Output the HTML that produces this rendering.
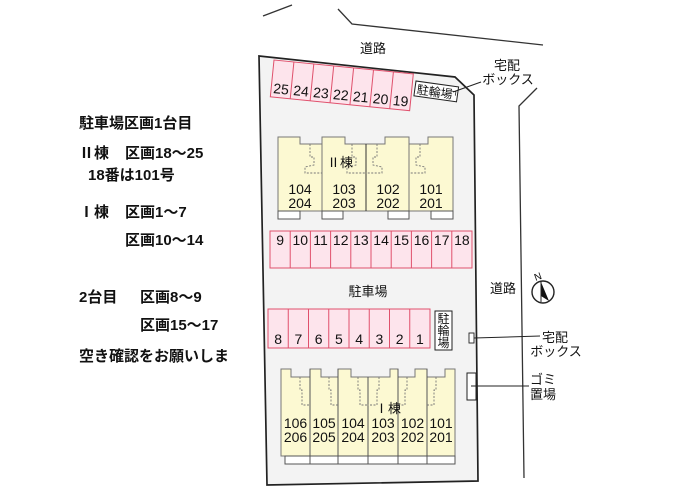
<!DOCTYPE html>
<html><head><meta charset="utf-8"><style>
html,body{margin:0;padding:0;background:#fff;}
svg{display:block;}
text{font-family:"Liberation Sans","Noto Sans CJK JP",sans-serif;}
.cjk{font-family:"Noto Sans CJK JP","Liberation Sans",sans-serif;}
.lt{font-weight:bold;font-size:15px;fill:#111;}
</style></head><body>
<svg width="676" height="499" viewBox="0 0 676 499" xmlns="http://www.w3.org/2000/svg">
<!-- roads -->
<g fill="none" stroke="#333" stroke-width="1.3">
<polyline points="263,16 292,5"/>
<polyline points="338,9 352,24 543,45"/>
<polyline points="537,88 519,106 524,478"/>
</g>
<!-- lot -->
<polygon points="259,56 455,77 474,95 478,481 267,485" fill="#f3f3f3" stroke="#222" stroke-width="1.7"/>

<!-- top parking 19-25 -->
<g transform="translate(274,60) rotate(5.7)">
<rect x="0" y="0" width="140" height="37" fill="#fde4ec" stroke="#e0506c" stroke-width="1"/>
<g stroke="#e0506c" stroke-width="1">
<line x1="20" y1="0" x2="20" y2="37"/><line x1="40" y1="0" x2="40" y2="37"/><line x1="60" y1="0" x2="60" y2="37"/><line x1="80" y1="0" x2="80" y2="37"/><line x1="100" y1="0" x2="100" y2="37"/><line x1="120" y1="0" x2="120" y2="37"/>
</g>
<g font-size="14" fill="#111" text-anchor="middle">
<text x="10" y="33">25</text><text x="30" y="33">24</text><text x="50" y="33">23</text><text x="70" y="33">22</text><text x="90" y="33">21</text><text x="110" y="33">20</text><text x="130" y="33">19</text>
</g>
</g>
<!-- bike box top -->
<g transform="translate(416,81) rotate(8)">
<rect x="0" y="0" width="43" height="15" fill="#fff" stroke="#222" stroke-width="1"/>
<text x="2" y="12.5" font-size="12" fill="#111">駐輪場</text>
<polyline points="37,5 41,5 41,9" fill="none" stroke="#222" stroke-width="0.8"/>
</g>
<line x1="453" y1="92" x2="481" y2="82" stroke="#222" stroke-width="1"/>
<text x="507" y="70" font-size="13" fill="#111" text-anchor="middle">宅配</text>
<text x="508" y="84" font-size="13" fill="#111" text-anchor="middle">ボックス</text>
<text x="373" y="53" font-size="13" fill="#111" text-anchor="middle">道路</text>

<!-- Building II -->
<path d="M278,137 L300,137 L300,144 L322,144 L322,137 L345,137 L345,144 L385,144 L385,137 L409,137 L409,144 L428,144 L428,137 L453,137 L453,211 L278,211 Z" fill="#fcf9d2" stroke="#777" stroke-width="1"/>
<line x1="322" y1="137" x2="322" y2="211" stroke="#777"/>
<line x1="366" y1="144" x2="366" y2="211" stroke="#333"/>
<line x1="409" y1="137" x2="409" y2="211" stroke="#777"/>
<g fill="none" stroke="#777" stroke-width="0.9" stroke-dasharray="2,1.5">
<path d="M310,144 L310,157 L314,157 L314,165 L305,167 L305,173 L322,173"/>
<path d="M352,144 L352,157 L356,157 L356,165 L347,167 L347,173 L366,173"/>
<path d="M377,144 L377,157 L373,157 L373,165 L382,167 L382,173 L366,173"/>
<path d="M420,144 L420,157 L416,157 L416,165 L425,167 L425,173 L409,173"/>
</g>
<g fill="#fff" stroke="#555" stroke-width="1">
<rect x="278" y="211" width="22" height="8"/>
<rect x="322" y="211" width="21" height="8"/>
<rect x="388" y="211" width="21" height="8"/>
<rect x="431" y="211" width="22" height="8"/>
</g>
<text class="cjk" x="340" y="167" font-size="13" fill="#111" text-anchor="middle">Ⅱ棟</text>
<g font-size="14" fill="#111" text-anchor="middle">
<text x="300" y="194">104</text><text x="300" y="208">204</text>
<text x="344" y="194">103</text><text x="344" y="208">203</text>
<text x="388" y="194">102</text><text x="388" y="208">202</text>
<text x="431" y="194">101</text><text x="431" y="208">201</text>
</g>

<!-- parking 9-18 -->
<rect x="270" y="231" width="202" height="37" fill="#fde4ec" stroke="#e0506c"/>
<g stroke="#e0506c">
<line x1="290.2" y1="231" x2="290.2" y2="268"/><line x1="310.4" y1="231" x2="310.4" y2="268"/><line x1="330.6" y1="231" x2="330.6" y2="268"/><line x1="350.8" y1="231" x2="350.8" y2="268"/><line x1="371" y1="231" x2="371" y2="268"/><line x1="391.2" y1="231" x2="391.2" y2="268"/><line x1="411.4" y1="231" x2="411.4" y2="268"/><line x1="431.6" y1="231" x2="431.6" y2="268"/><line x1="451.8" y1="231" x2="451.8" y2="268"/>
</g>
<g font-size="14" fill="#111" text-anchor="middle">
<text x="280.1" y="245">9</text><text x="300.3" y="245">10</text><text x="320.5" y="245">11</text><text x="340.7" y="245">12</text><text x="360.9" y="245">13</text><text x="381.1" y="245">14</text><text x="401.3" y="245">15</text><text x="421.5" y="245">16</text><text x="441.7" y="245">17</text><text x="461.9" y="245">18</text>
</g>

<text x="368" y="296" font-size="13" fill="#111" text-anchor="middle">駐車場</text>

<!-- parking 1-8 -->
<rect x="268" y="309" width="162" height="39" fill="#fde4ec" stroke="#e0506c"/>
<g stroke="#e0506c">
<line x1="288.25" y1="309" x2="288.25" y2="348"/><line x1="308.5" y1="309" x2="308.5" y2="348"/><line x1="328.75" y1="309" x2="328.75" y2="348"/><line x1="349" y1="309" x2="349" y2="348"/><line x1="369.25" y1="309" x2="369.25" y2="348"/><line x1="389.5" y1="309" x2="389.5" y2="348"/><line x1="409.75" y1="309" x2="409.75" y2="348"/>
</g>
<g font-size="14" fill="#111" text-anchor="middle">
<text x="278.1" y="344">8</text><text x="298.4" y="344">7</text><text x="318.6" y="344">6</text><text x="338.9" y="344">5</text><text x="359.1" y="344">4</text><text x="379.4" y="344">3</text><text x="399.6" y="344">2</text><text x="419.9" y="344">1</text>
</g>
<!-- bike vertical -->
<rect x="435" y="311" width="17" height="39" fill="#fff" stroke="#222"/>
<g font-size="12" fill="#111" text-anchor="middle">
<text x="443.5" y="323">駐</text><text x="443.5" y="335">輪</text><text x="443.5" y="347">場</text>
</g>
<!-- delivery box 2 -->
<rect x="469" y="333" width="5" height="10" fill="#fff" stroke="#222" stroke-width="0.9"/>
<line x1="474" y1="338" x2="540" y2="336" stroke="#222"/>
<text x="555" y="342" font-size="13" fill="#111" text-anchor="middle">宅配</text>
<text x="556" y="356" font-size="13" fill="#111" text-anchor="middle">ボックス</text>

<text x="503" y="293" font-size="13" fill="#111" text-anchor="middle">道路</text>
<!-- compass -->
<circle cx="543" cy="292" r="11" fill="#fff" stroke="#222" stroke-width="1.4"/>
<polygon points="541,282 549,301 541,296" fill="#111"/>
<line x1="541" y1="282" x2="541" y2="302" stroke="#222" stroke-width="1"/>
<text x="538" y="280" font-size="10" fill="#111" text-anchor="middle" transform="rotate(-20 538 277)">N</text>

<!-- gomi -->
<rect x="467" y="373" width="9" height="27" fill="#fff" stroke="#222"/>
<line x1="471" y1="386" x2="529" y2="386" stroke="#222"/>
<text x="543" y="384" font-size="13" fill="#111" text-anchor="middle">ゴミ</text>
<text x="543" y="399" font-size="13" fill="#111" text-anchor="middle">置場</text>

<!-- Building I -->
<path d="M281,369 L291,369 L291,377 L310,377 L310,369 L321,369 L321,377 L338,377 L338,369 L351,369 L351,377 L390,377 L390,369 L398,369 L398,377 L415,377 L415,369 L427,369 L427,377 L445,377 L445,369 L455,369 L455,456 L281,456 Z" fill="#fcf9d2" stroke="#777" stroke-width="1"/>
<g stroke="#555" stroke-width="1">
<line x1="310" y1="369" x2="310" y2="456"/><line x1="338" y1="369" x2="338" y2="456"/><line x1="368" y1="377" x2="368" y2="456"/><line x1="398" y1="369" x2="398" y2="456"/><line x1="427" y1="369" x2="427" y2="456"/>
</g>
<g fill="none" stroke="#777" stroke-width="0.9" stroke-dasharray="2,1.5">
<path d="M300,377 L300,390 L302,390 L302,405 L310,405"/>
<path d="M329,377 L329,390 L331,390 L331,405 L338,405"/>
<path d="M358,377 L358,390 L360,390 L360,405 L368,405"/>
<path d="M379,377 L379,390 L377,390 L377,405 L368,405"/>
<path d="M407,377 L407,390 L405,390 L405,405 L398,405"/>
<path d="M436,377 L436,390 L434,390 L434,405 L427,405"/>
</g>
<rect x="285" y="456" width="170" height="8" fill="#fff" stroke="#555"/>
<g stroke="#555"><line x1="310" y1="456" x2="310" y2="464"/><line x1="338" y1="456" x2="338" y2="464"/><line x1="368" y1="456" x2="368" y2="464"/><line x1="398" y1="456" x2="398" y2="464"/><line x1="427" y1="456" x2="427" y2="464"/></g>
<text class="cjk" x="388" y="413" font-size="13" fill="#111" text-anchor="middle">Ⅰ棟</text>
<g font-size="14" fill="#111" text-anchor="middle">
<text x="295.5" y="428">106</text><text x="295.5" y="442">206</text>
<text x="324" y="428">105</text><text x="324" y="442">205</text>
<text x="353" y="428">104</text><text x="353" y="442">204</text>
<text x="383" y="428">103</text><text x="383" y="442">203</text>
<text x="412.5" y="428">102</text><text x="412.5" y="442">202</text>
<text x="441" y="428">101</text><text x="441" y="442">201</text>
</g>

<!-- left notes -->
<text class="lt" x="79" y="128">駐車場区画1台目</text>
<text class="lt cjk" x="79" y="158">Ⅱ棟</text><text class="lt" x="125" y="158">区画18～25</text>
<text class="lt" x="88" y="180">18番は101号</text>
<text class="lt cjk" x="79" y="217">Ⅰ棟</text><text class="lt" x="125" y="217">区画1～7</text>
<text class="lt" x="125" y="245">区画10～14</text>
<text class="lt" x="79" y="302">2台目</text><text class="lt" x="140" y="302">区画8～9</text>
<text class="lt" x="140" y="330">区画15～17</text>
<text class="lt" x="79" y="361">空き確認をお願いしま</text>
</svg>
</body></html>
